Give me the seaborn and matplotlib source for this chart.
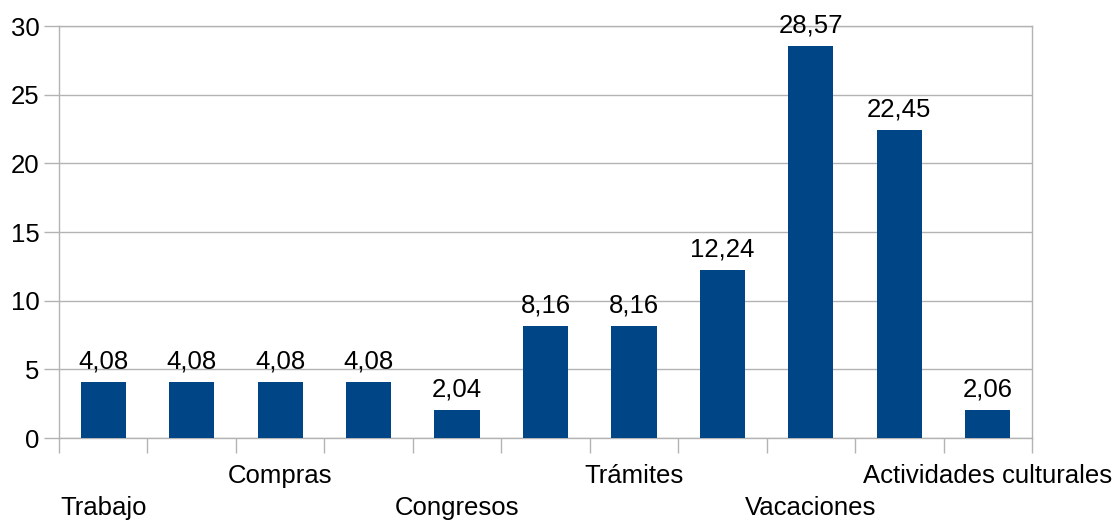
import numpy as np
import pandas as pd
import seaborn as sns
import matplotlib.pyplot as plt

# categories (only every other name is shown on the original axis)
categories = ["Trabajo", "Cat 2", "Compras", "Cat 4", "Congresos", "Cat 6",
              "Trámites", "Cat 8", "Vacaciones", "Cat 10", "Actividades culturales"]
shown = [True, False, True, False, True, False, True, False, True, False, True]
values = [4.08, 4.08, 4.08, 4.08, 2.04, 8.16, 8.16, 12.24, 28.57, 22.45, 2.06]
y_ticks = [0, 5, 10, 15, 20, 25, 30]

df = pd.DataFrame({"cat": categories, "val": values})

sns.set_style("white")
plt.rcParams['font.family'] = ['Liberation Sans', 'DejaVu Sans']

grey = "#b3b3b3"
fs = 18.5
fig = plt.figure(figsize=(11.16, 5.21), dpi=100)
ax = fig.add_axes([0.0529, 0.1593, 0.8718, 0.7907])

sns.barplot(data=df, x="cat", y="val", color="#004586", width=0.51,
            saturation=1, ax=ax, zorder=3, linewidth=0)

# value labels with decimal comma
ax.bar_label(ax.containers[0], labels=[f"{v:.2f}".replace(".", ",") for v in values],
             padding=6, fontsize=fs, color="black")

ax.set_ylim(0, 30)
ax.set_xlim(-0.5, len(categories) - 0.5)
ax.set_yticks(y_ticks)
ax.set_yticklabels([str(t) for t in y_ticks], fontsize=fs, color="black")
ax.yaxis.grid(True, color=grey, linewidth=1, zorder=0)
ax.set_xlabel("")
ax.set_ylabel("")

# staggered category labels, first shown label on the lower row
labels = []
for i, (c, s) in enumerate(zip(categories, shown)):
    if not s:
        labels.append("")
    elif (i // 2) % 2 == 0:
        labels.append("\n" + c)
    else:
        labels.append(c)
ax.set_xticks(range(len(categories)))
ax.set_xticklabels(labels, fontsize=fs, color="black")
for t in ax.get_xticklabels():
    t.set_linespacing(1.42)
ax.tick_params(axis="x", which="major", bottom=True, length=0, pad=19)

# boundary tick marks below the axis
ax.set_xticks(np.arange(-0.5, len(categories), 1), minor=True)
ax.tick_params(axis="x", which="minor", bottom=True, length=11, color=grey, width=1)
ax.tick_params(axis="y", which="major", left=True, length=11, color=grey, width=1, pad=3)

for sp in ax.spines.values():
    sp.set_color(grey)
    sp.set_linewidth(1)

fig.savefig("out.png", dpi=100)
